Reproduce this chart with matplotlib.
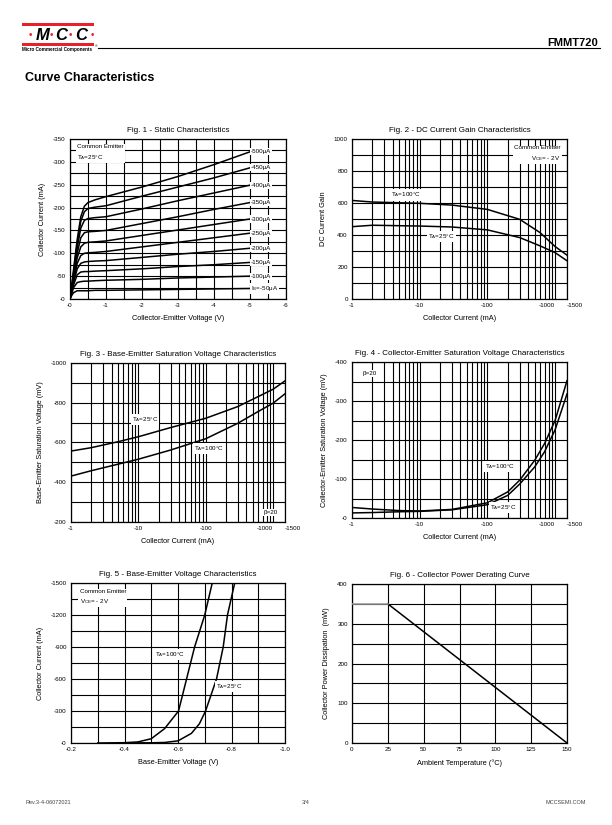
import matplotlib
matplotlib.use('Agg')
import matplotlib.pyplot as plt
from matplotlib.lines import Line2D
from matplotlib.patches import Rectangle
from matplotlib.ticker import NullFormatter

plt.rcParams['font.family'] = ['Liberation Sans', 'DejaVu Sans']
plt.rcParams['mathtext.default'] = 'regular'

# ---- Fig. 1 - static characteristics (magnitudes, V / mA)
vce = [0, 0.05, 0.1, 0.2, 0.3, 0.4, 0.5, 0.7, 1, 2, 3, 4, 5]
ib_labels = ['-500μA', '-450μA', '-400μA', '-350μA', '-300μA',
             '-250μA', '-200μA', '-150μA', '-100μA', 'I$_B$=-50μA']
ic_curves = [
  [0, 30, 65, 130, 180, 203, 211, 217, 224, 245, 268, 294, 322],
  [0, 28, 60, 122, 170, 191, 198, 201, 204, 225, 245, 265, 287],
  [0, 26, 55, 112, 155, 172, 176, 178, 180, 197, 215, 232, 249],
  [0, 24, 50, 100, 134, 145, 147, 148, 150, 165, 180, 196, 211],
  [0, 22, 45, 90, 114, 122, 124, 125, 127, 139, 151, 163, 175],
  [0, 20, 40, 78, 95, 100, 101, 102, 104, 114, 124, 134, 144],
  [0, 18, 36, 66, 78, 81, 82, 83, 84, 91, 98, 104, 111],
  [0, 16, 31, 53, 59, 60, 60, 61, 62, 66, 71, 75, 80],
  [0, 13, 25, 36, 38, 39, 39, 40, 41, 43, 46, 48, 50],
  [0, 8, 14, 18, 18, 18, 18, 19, 19, 20, 21, 22, 23],
]

# ---- Fig. 2 - DC current gain
ic_gain = [1, 2, 10, 30, 100, 300, 600, 1000, 1500]
hfe_100 = [616, 606, 598, 587, 560, 498, 415, 328, 274]
hfe_25 = [452, 461, 456, 450, 432, 384, 332, 290, 239]

# ---- Fig. 3 - Vbe(sat)
ic_sat = [1, 2, 5, 10, 30, 100, 300, 600, 1000, 1500]
vbe_25 = [557, 574, 604, 629, 675, 722, 781, 831, 868, 910]
vbe_100 = [431, 458, 491, 516, 562, 619, 697, 756, 798, 845]

# ---- Fig. 4 - Vce(sat)
ic_cesat = [1, 2, 5, 10, 30, 100, 200, 300, 500, 700, 1000, 1500]
vce_100 = [27, 23, 19, 18, 22, 39, 67, 97, 148, 191, 250, 352]
vce_25 = [13, 14, 16, 17, 21, 34, 58, 87, 131, 170, 226, 318]

# ---- Fig. 5 - Vbe(on)
vbe_on_100 = [0.30, 0.40, 0.45, 0.50, 0.55, 0.602, 0.632, 0.662, 0.70, 0.728]
ic_on_100 = [0, 3, 10, 40, 135, 300, 600, 900, 1200, 1500]
vbe_on_25 = [0.40, 0.50, 0.55, 0.60, 0.65, 0.68, 0.703, 0.744, 0.769, 0.785, 0.812]
ic_on_25 = [0, 2, 5, 20, 90, 180, 300, 600, 900, 1200, 1500]

# ---- Fig. 6 - power derating
temps = [0, 25, 150]
power = [350, 350, 0]

TS = 4.5   # tick label size
LS = 5.3   # axis label size
box = dict(facecolor='white', edgecolor='none', pad=0.8)


def setup(ax, title, xlabel, ylabel):
  ax.set_title(title, fontsize=5.8, pad=5)
  ax.set_xlabel(xlabel, fontsize=LS, labelpad=5)
  ax.set_ylabel(ylabel, fontsize=LS, labelpad=5)
  ax.tick_params(which='both', length=0, labelsize=TS, pad=3)
  ax.grid(which='both', color='black', lw=0.8)
  for s in ax.spines.values():
    s.set_linewidth(0.9)


def logx(ax):
  ax.set_xscale('log')
  ax.set_xlim(1, 1500)
  ax.set_xticks([1, 10, 100, 1000, 1500], labels=['-1', '-10', '-100', '-1000', '-1500'])
  minors = [m * d for d in (1, 10, 100) for m in range(2, 10)]
  ax.set_xticks(minors, minor=True)
  ax.xaxis.set_minor_formatter(NullFormatter())
  labs = ax.get_xticklabels()
  labs[-2].set_horizontalalignment('right')
  labs[-1].set_horizontalalignment('left')
  for lab in labs[-2:]:
    lab.set_fontsize(4)


fig = plt.figure(figsize=(6.12, 8.25), dpi=100)
W, H = 612.0, 825.0


def add_axes(x0, x1, y0, y1):
  return fig.add_axes([x0 / W, 1 - y1 / H, (x1 - x0) / W, (y1 - y0) / H])


# Fig 1
ax = add_axes(70, 286, 139, 299)
for lab, ic in zip(ib_labels, ic_curves):
  ax.plot(vce, ic, color='black', lw=1.1)
  ax.text(5.02, ic[-1], lab, fontsize=TS, va='center', ha='left', bbox=box)
ax.set_xlim(0, 6)
ax.set_ylim(0, 350)
ax.set_xticks(range(7), labels=['-%d' % v for v in range(7)])
ax.set_xticks([v / 2 for v in range(13)], minor=True)
ax.set_yticks(range(0, 351, 50), labels=['-%d' % v for v in range(0, 351, 50)])
ax.set_yticks(range(0, 351, 25), minor=True)
ax.text(0.2, 340, 'Common Emitter\nT$_A$=25°C', fontsize=TS, va='top', bbox=box, linespacing=1.7)
setup(ax, 'Fig. 1 - Static Characteristics', 'Collector-Emitter Voltage (V)', 'Collector Current (mA)')

# Fig 2
ax = add_axes(352, 567, 139, 299)
ax.plot(ic_gain, hfe_100, color='black', lw=1.1)
ax.plot(ic_gain, hfe_25, color='black', lw=1.1)
logx(ax)
ax.set_ylim(0, 1000)
ax.set_yticks(range(0, 1001, 200))
ax.set_yticks(range(0, 1001, 100), minor=True)
ax.text(6.2, 650, 'T$_A$=100°C', fontsize=TS, ha='center', va='center', bbox=box)
ax.text(21, 390, 'T$_A$=25°C', fontsize=TS, ha='center', va='center', bbox=box)
ax.text(0.97, 0.96, 'Common Emitter\nV$_{CE}$= - 2V', fontsize=TS, ha='right', va='top',
        multialignment='right', transform=ax.transAxes, bbox=box, linespacing=1.6)
setup(ax, 'Fig. 2 - DC Current Gain Characteristics', 'Collector Current (mA)', 'DC Current Gain')

# Fig 3
ax = add_axes(71, 285, 363, 522)
ax.plot(ic_sat, vbe_25, color='black', lw=1.1)
ax.plot(ic_sat, vbe_100, color='black', lw=1.1)
logx(ax)
ax.set_ylim(200, 1000)
ax.set_yticks(range(200, 1001, 200), labels=['-%d' % v for v in range(200, 1001, 200)])
ax.set_yticks(range(200, 1001, 100), minor=True)
ax.text(12.6, 717, 'T$_A$=25°C', fontsize=TS, ha='center', va='center', bbox=box)
ax.text(111, 570, 'T$_A$=100°C', fontsize=TS, ha='center', va='center', bbox=box)
ax.text(0.9, 0.06, 'β=20', fontsize=TS, ha='left', va='center', transform=ax.transAxes, bbox=box)
setup(ax, 'Fig. 3 - Base-Emitter Saturation Voltage Characteristics',
      'Collector Current (mA)', 'Base-Emitter Saturation Voltage (mV)')

# Fig 4
ax = add_axes(352, 567, 362, 518)
ax.plot(ic_cesat, vce_100, color='black', lw=1.1)
ax.plot(ic_cesat, vce_25, color='black', lw=1.1)
logx(ax)
ax.set_ylim(0, 400)
ax.set_yticks(range(0, 401, 100), labels=['-%d' % v for v in range(0, 401, 100)])
ax.set_yticks(range(0, 401, 50), minor=True)
ax.text(151, 133, 'T$_A$=100°C', fontsize=TS, ha='center', va='center', bbox=box)
ax.text(169, 28, 'T$_A$=25°C', fontsize=TS, ha='center', va='center', bbox=box)
ax.text(0.05, 0.927, 'β=20', fontsize=TS, ha='left', va='center', transform=ax.transAxes, bbox=box)
setup(ax, 'Fig. 4 - Collector-Emitter Saturation Voltage Characteristics',
      'Collector Current (mA)', 'Collector-Emitter Saturation Voltage (mV)')

# Fig 5
ax = add_axes(71, 285, 583, 743)
ax.plot(vbe_on_100, ic_on_100, color='black', lw=1.1)
ax.plot(vbe_on_25, ic_on_25, color='black', lw=1.1)
ax.set_xlim(0.2, 1.0)
ax.set_ylim(0, 1500)
xt = [0.2, 0.4, 0.6, 0.8, 1.0]
ax.set_xticks(xt, labels=['-%.1f' % v for v in xt])
ax.set_xticks([0.2 + 0.1 * i for i in range(9)], minor=True)
ax.set_yticks(range(0, 1501, 300), labels=['-%d' % v for v in range(0, 1501, 300)])
ax.set_yticks(range(0, 1501, 150), minor=True)
ax.text(0.57, 831, 'T$_A$=100°C', fontsize=TS, ha='center', va='center', bbox=box)
ax.text(0.79, 527, 'T$_A$=25°C', fontsize=TS, ha='center', va='center', bbox=box)
ax.text(0.04, 0.965, 'Common Emitter\nV$_{CE}$= - 2V', fontsize=TS, ha='left', va='top',
        transform=ax.transAxes, bbox=box, linespacing=1.6)
setup(ax, 'Fig. 5 - Base-Emitter Voltage Characteristics',
      'Base-Emitter Voltage (V)', 'Collector Current (mA)')

# Fig 6
ax = add_axes(352, 567, 584, 743)
ax.plot(temps[:2], power[:2], color='#999999', lw=1.1, zorder=3)
ax.plot(temps[1:], power[1:], color='black', lw=1.1)
ax.set_xlim(0, 150)
ax.set_ylim(0, 400)
ax.set_xticks(range(0, 151, 25))
ax.set_yticks(range(0, 401, 100))
ax.set_yticks(range(0, 401, 50), minor=True)
setup(ax, 'Fig. 6 - Collector Power Derating Curve',
      'Ambient Temperature (°C)', 'Collector Power Dissipation  (mW)')

# ---- page header
red = '#e8202a'
fig.add_artist(Rectangle((22 / W, 1 - 25.5 / H), 72 / W, 2.2 / H, transform=fig.transFigure, color=red, lw=0))
fig.add_artist(Rectangle((22 / W, 1 - 45.5 / H), 72 / W, 2.2 / H, transform=fig.transFigure, color=red, lw=0))
for x, ch in [(30, '•'), (51.5, '•'), (70, '•'), (92, '•')]:
  fig.text(x / W, 1 - 35 / H, ch, color=red, fontsize=7, ha='center', va='center')
for x, ch in [(43, 'M'), (61.5, 'C'), (81, 'C')]:
  fig.text(x / W, 1 - 35 / H, ch, color='black', fontsize=12, ha='center', va='center',
           fontweight='bold', fontstyle='italic')
fig.text(22 / W, 1 - 50 / H, 'Micro Commercial Components', fontsize=3.3, fontweight='bold', va='center')
fig.text(95 / W, 1 - 46 / H, '®', fontsize=2.5, va='center')
fig.add_artist(Line2D([98 / W, 600 / W], [1 - 48 / H, 1 - 48 / H], color='black', lw=0.8))
fig.text(598 / W, 1 - 43 / H, 'FMMT720', fontsize=8, fontweight='bold', ha='right', va='center')
fig.text(25 / W, 1 - 78 / H, 'Curve Characteristics', fontsize=9, fontweight='bold', va='center')

# ---- footer
fig.text(25 / W, 1 - 803 / H, 'Rev.3-4-06072021', fontsize=4, color='#444444', va='center')
fig.text(306 / W, 1 - 803 / H, '3/4', fontsize=4, color='#444444', va='center', ha='center')
fig.text(586 / W, 1 - 803 / H, 'MCCSEMI.COM', fontsize=4, color='#444444', va='center', ha='right')

plt.savefig('out.png', dpi=100)
